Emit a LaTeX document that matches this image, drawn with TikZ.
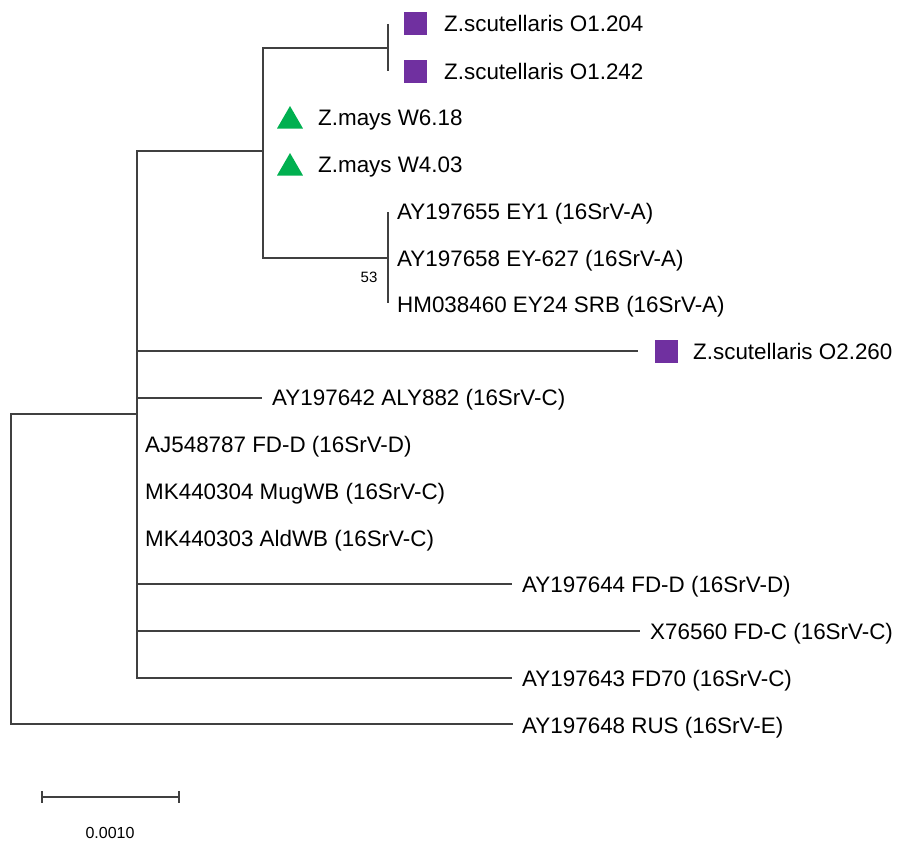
\documentclass[tikz,border=0pt]{standalone}
\usepackage{fontspec}
\setmainfont{Liberation Sans}
\usetikzlibrary{shapes.geometric}
\definecolor{zpurple}{RGB}{112,48,160}
\definecolor{zgreen}{RGB}{0,176,80}

\begin{document}
\begin{tikzpicture}[x=1pt,y=-1pt,
  branch/.style={draw=black!75,line width=1.4pt},
  taxon/.style={anchor=base west,inner sep=0pt,font=\fontsize{22.4}{26}\selectfont},
  sq/.style={fill=zpurple,minimum size=23pt,inner sep=0pt},
  tri/.style={regular polygon,regular polygon sides=3,fill=zgreen,minimum size=30pt,inner sep=0pt}]
\useasboundingbox (0,0) rectangle (901,843);

% internal nodes
\coordinate (root) at (11,414);
\coordinate (n1) at (137,414);
\coordinate (n2) at (263,151);
\coordinate (n3) at (388,48);
\coordinate (n4) at (388,258);

% branch ends
\coordinate (e7) at (638,351);
\coordinate (e8) at (262,398);
\coordinate (e12) at (512,584);
\coordinate (e13) at (640,631);
\coordinate (e14) at (512,678);
\coordinate (e15) at (513,724);

% markers
\node[sq] (sA) at (415.5,24) {};
\node[sq] (sB) at (415.5,71) {};
\node[tri] (tA) at (290,121) {};
\node[tri] (tB) at (290,168) {};
\node[sq] (sC) at (666,351) {};

% taxa
\node[taxon] (zs1) at (444,32) {Z.scutellaris O1.204};
\node[taxon] (zs2) at (444,79) {Z.scutellaris O1.242};
\node[taxon] (zm1) at (318,125.5) {Z.mays W6.18};
\node[taxon] (zm2) at (318,172) {Z.mays W4.03};
\node[taxon] (ey1) at (397,219) {AY197655 EY1 (16SrV-A)};
\node[taxon] (ey2) at (397,266) {AY197658 EY-627 (16SrV-A)};
\node[taxon] (ey3) at (397,312) {HM038460 EY24 SRB (16SrV-A)};
\node[taxon] (zs3) at (693,359) {Z.scutellaris O2.260};
\node[taxon] (aly) at (272,405.5) {AY197642 ALY882 (16SrV-C)};
\node[taxon] (fdd1) at (145,452.5) {AJ548787 FD-D (16SrV-D)};
\node[taxon] (mug) at (145,499) {MK440304 MugWB (16SrV-C)};
\node[taxon] (ald) at (145,546) {MK440303 AldWB (16SrV-C)};
\node[taxon] (fdd2) at (522,592) {AY197644 FD-D (16SrV-D)};
\node[taxon] (fdc) at (650,639.5) {X76560 FD-C (16SrV-C)};
\node[taxon] (fd70) at (522,686.5) {AY197643 FD70 (16SrV-C)};
\node[taxon] (rus) at (522,733) {AY197648 RUS (16SrV-E)};

% tree
\draw[branch] (n1) -- (root) |- (e15);
\draw[branch] (n2) -- (n2 -| n1) -- (n1 |- e14) -- (e14);
\draw[branch] (n1 |- e7) -- (e7);
\draw[branch] (n1 |- e8) -- (e8);
\draw[branch] (n1 |- e12) -- (e12);
\draw[branch] (n1 |- e13) -- (e13);
\draw[branch] (n3) -| (n2) |- (n4);
\draw[branch] (n3 |- sA) -- (n3 |- sB);
\draw[branch] (388,212) -- (388,303);
\node[font=\fontsize{15}{18}\selectfont] (bs) at (369,277) {53};

% scale bar
\coordinate (sb1) at (42,797);
\coordinate (sb2) at (179,797);
\draw[branch] (sb1) -- (sb2);
\draw[branch] ([yshift=6pt]sb1) -- ([yshift=-6pt]sb1);
\draw[branch] ([yshift=6pt]sb2) -- ([yshift=-6pt]sb2);
\node[font=\fontsize{16}{19}\selectfont] (sbl) at (110,833) {0.0010};
\end{tikzpicture}
\end{document}
